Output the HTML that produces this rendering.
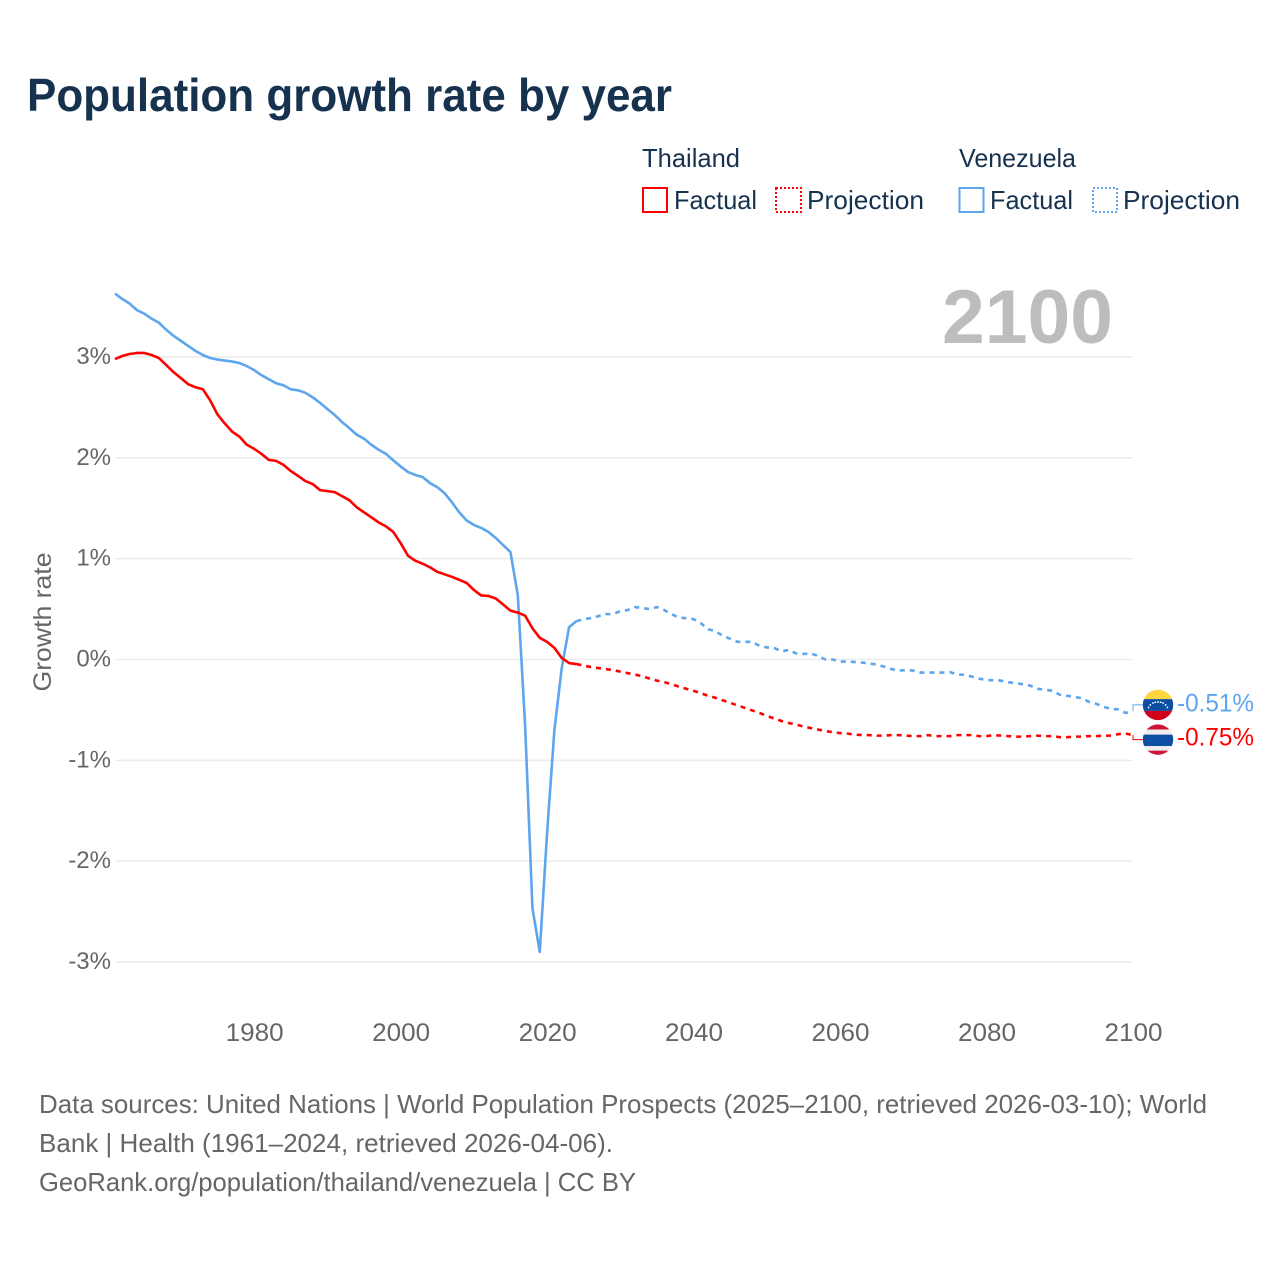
<!DOCTYPE html>
<html lang="en">
<head>
<meta charset="utf-8">
<title>Population growth rate by year</title>
<style>
html,body{margin:0;padding:0;background:#fff}
svg{display:block}
text{font-family:"Liberation Sans",Arial,sans-serif}
</style>
</head>
<body>
<svg id="chart" xmlns="http://www.w3.org/2000/svg" width="1280" height="1280" viewBox="0 0 1280 1280">
  <rect x="0" y="0" width="1280" height="1280" fill="#fff"/>
  <text x="27" y="111" font-size="46" font-weight="700" fill="#16324f" textLength="645" lengthAdjust="spacingAndGlyphs">Population growth rate by year</text>

  <g font-size="26" fill="#16324f">
    <text x="642" y="167" textLength="98" lengthAdjust="spacingAndGlyphs">Thailand</text>
    <rect x="643" y="188" width="24" height="24" fill="none" stroke="#ff0000" stroke-width="2"/>
    <text x="674" y="209" textLength="83" lengthAdjust="spacingAndGlyphs">Factual</text>
    <rect x="776" y="188" width="25" height="24" fill="none" stroke="#ff0000" stroke-width="2" stroke-dasharray="2 2"/>
    <text x="807" y="209" textLength="117" lengthAdjust="spacingAndGlyphs">Projection</text>
    <text x="959" y="167" textLength="117" lengthAdjust="spacingAndGlyphs">Venezuela</text>
    <rect x="959.5" y="188" width="24" height="24" fill="none" stroke="#5da5ec" stroke-width="2"/>
    <text x="990" y="209" textLength="83" lengthAdjust="spacingAndGlyphs">Factual</text>
    <rect x="1093" y="188" width="24" height="24" fill="none" stroke="#5da5ec" stroke-width="2" stroke-dasharray="2 2"/>
    <text x="1123" y="209" textLength="117" lengthAdjust="spacingAndGlyphs">Projection</text>
  </g>

  <g id="grid"></g>
  <g id="yticks"></g>
  <g id="xticks"></g>
  <text transform="translate(51,622) rotate(-90)" text-anchor="middle" font-size="25" fill="#666" textLength="139" lengthAdjust="spacingAndGlyphs">Growth rate</text>
  <text x="1113" y="343" text-anchor="end" font-size="76" font-weight="700" fill="#bdbdbd" textLength="171" lengthAdjust="spacingAndGlyphs">2100</text>
  <g id="series"></g>
  <g id="ends"></g>

  <g font-size="26" fill="#666">
    <text x="39" y="1113" textLength="1168" lengthAdjust="spacingAndGlyphs">Data sources: United Nations | World Population Prospects (2025–2100, retrieved 2026-03-10); World</text>
    <text x="39" y="1152" textLength="574" lengthAdjust="spacingAndGlyphs">Bank | Health (1961–2024, retrieved 2026-04-06).</text>
    <text x="39" y="1191" textLength="597" lengthAdjust="spacingAndGlyphs">GeoRank.org/population/thailand/venezuela | CC BY</text>
  </g>
</svg>
<script>
var firstFactualYear = 1961;
var firstProjectionYear = 2025;
var yTickValues = [3, 2, 1, 0, -1, -2, -3];
var xTickYears = [1980, 2000, 2020, 2040, 2060, 2080, 2100];

var thailandFactual = [2.98,3.01,3.03,3.04,3.04,3.02,2.99,2.92,2.85,2.79,2.73,2.70,2.68,2.57,2.43,2.34,2.26,2.21,2.13,2.09,
  2.04,1.98,1.97,1.93,1.87,1.82,1.77,1.74,1.68,1.67,1.66,1.62,1.58,1.51,1.46,1.41,1.36,1.32,1.265,1.155,
  1.03,0.98,0.95,0.915,0.87,0.845,0.82,0.79,0.76,0.69,0.635,0.63,0.605,0.545,0.485,0.465,0.435,0.31,0.215,0.175,
  0.115,0.015,-0.035,-0.045];
var thailandProjection = [-0.06,-0.075,-0.085,-0.095,-0.105,-0.12,-0.135,-0.15,-0.165,-0.19,-0.21,-0.225,-0.245,-0.27,-0.29,-0.31,
  -0.335,-0.36,-0.38,-0.405,-0.43,-0.455,-0.48,-0.505,-0.53,-0.56,-0.585,-0.61,-0.63,-0.645,-0.665,-0.68,-0.695,-0.71,-0.72,-0.73,
  -0.735,-0.745,-0.75,-0.75,-0.755,-0.755,-0.75,-0.75,-0.755,-0.76,-0.76,-0.75,-0.76,-0.76,-0.76,-0.75,-0.75,-0.75,-0.76,-0.76,
  -0.75,-0.755,-0.76,-0.765,-0.765,-0.76,-0.755,-0.76,-0.76,-0.77,-0.77,-0.765,-0.765,-0.76,-0.76,-0.755,-0.755,-0.74,-0.735,-0.75];
var venezuelaFactual = [3.63,3.575,3.53,3.465,3.43,3.38,3.34,3.27,3.21,3.16,3.11,3.06,3.02,2.99,2.975,2.965,2.955,2.94,2.91,2.87,
  2.82,2.78,2.74,2.72,2.68,2.67,2.645,2.60,2.545,2.485,2.425,2.355,2.295,2.23,2.19,2.13,2.08,2.04,1.975,1.915,
  1.86,1.83,1.81,1.75,1.71,1.65,1.56,1.46,1.38,1.335,1.305,1.265,1.205,1.135,1.065,0.64,-0.65,-2.465,-2.90,-1.72,
  -0.70,-0.085,0.32,0.38];
var venezuelaProjection = [0.40,0.41,0.43,0.45,0.45,0.48,0.49,0.52,0.51,0.50,0.52,0.49,0.45,0.415,0.41,0.40,0.36,0.30,0.28,0.235,
  0.205,0.175,0.175,0.175,0.135,0.12,0.115,0.08,0.095,0.06,0.055,0.06,0.035,0.0,0.0,-0.02,-0.02,-0.025,-0.03,-0.04,
  -0.05,-0.07,-0.095,-0.11,-0.105,-0.11,-0.13,-0.13,-0.13,-0.13,-0.125,-0.15,-0.15,-0.17,-0.19,-0.205,-0.205,-0.21,-0.225,-0.235,
  -0.245,-0.26,-0.29,-0.30,-0.31,-0.35,-0.36,-0.37,-0.385,-0.42,-0.44,-0.47,-0.49,-0.495,-0.53,-0.51];

var NS = 'http://www.w3.org/2000/svg';
var RED = '#ff0000';
var BLUE = '#5da5ec';
var plotLeft = 115;
var plotRight = 1133;

function xScale(year) { return 1133 - (2100 - year) * 7.324; }
function yScale(value) { return 659.5 - value * 100.83; }
function mk(tag, parent) {
  var el = document.createElementNS(NS, tag);
  parent.appendChild(el);
  return el;
}
function linePath(values, startYear, priorYear, priorValue) {
  var d = '';
  if (priorYear !== null) d = 'M' + xScale(priorYear).toFixed(2) + ',' + yScale(priorValue).toFixed(2);
  for (var i = 0; i < values.length; i++) {
    d += (d ? 'L' : 'M') + xScale(startYear + i).toFixed(2) + ',' + yScale(values[i]).toFixed(2);
  }
  return d;
}

var gridG = document.getElementById('grid');
var yG = document.getElementById('yticks');
yTickValues.forEach(function (v) {
  var ln = mk('line', gridG);
  
  
  ln.setAttribute('x1', plotLeft);
  ln.setAttribute('x2', plotRight);
  ln.setAttribute('y1', yScale(v));
  ln.setAttribute('y2', yScale(v));
  ln.setAttribute('stroke', '#ececec');
  ln.setAttribute('stroke-width', '1.5');
  var t = mk('text', yG);
  
  
  t.setAttribute('x', 111);
  t.setAttribute('y', yScale(v) + 7);
  t.setAttribute('text-anchor', 'end');
  t.setAttribute('font-size', '24');
  t.setAttribute('fill', '#666');
  t.textContent = v + '%';
});

var xG = document.getElementById('xticks');
xTickYears.forEach(function (yr) {
  var t = mk('text', xG);
  
  
  t.setAttribute('x', xScale(yr) + 0.5);
  t.setAttribute('y', 1041);
  t.setAttribute('text-anchor', 'middle');
  t.setAttribute('font-size', '25');
  t.setAttribute('fill', '#666');
  t.setAttribute('textLength', '58');
  t.setAttribute('lengthAdjust', 'spacingAndGlyphs');
  t.textContent = yr;
});

var seriesG = document.getElementById('series');

var venFact = mk('path', seriesG);


venFact.setAttribute('d', linePath(venezuelaFactual, firstFactualYear, null, null));
venFact.setAttribute('fill', 'none');
venFact.setAttribute('stroke', BLUE);
venFact.setAttribute('stroke-width', '2.6');
venFact.setAttribute('stroke-linejoin', 'round');

var venProj = mk('path', seriesG);


venProj.setAttribute('d', linePath(venezuelaProjection, firstProjectionYear, firstProjectionYear - 1, venezuelaFactual[venezuelaFactual.length - 1]));
venProj.setAttribute('fill', 'none');
venProj.setAttribute('stroke', BLUE);
venProj.setAttribute('stroke-width', '2.6');
venProj.setAttribute('stroke-dasharray', '5 5');

var thaFact = mk('path', seriesG);


thaFact.setAttribute('d', linePath(thailandFactual, firstFactualYear, null, null));
thaFact.setAttribute('fill', 'none');
thaFact.setAttribute('stroke', RED);
thaFact.setAttribute('stroke-width', '2.6');
thaFact.setAttribute('stroke-linejoin', 'round');

var thaProj = mk('path', seriesG);


thaProj.setAttribute('d', linePath(thailandProjection, firstProjectionYear, firstProjectionYear - 1, thailandFactual[thailandFactual.length - 1]));
thaProj.setAttribute('fill', 'none');
thaProj.setAttribute('stroke', RED);
thaProj.setAttribute('stroke-width', '2.6');
thaProj.setAttribute('stroke-dasharray', '5 5');

var endsG = document.getElementById('ends');
var venLast = venezuelaProjection[venezuelaProjection.length - 1];
var thaLast = thailandProjection[thailandProjection.length - 1];
var venY = yScale(venLast) - 6;
var thaY = yScale(thaLast) + 4.5;
var flagX = 1158;
var flagR = 15.2;

var venConn = mk('path', endsG);


venConn.setAttribute('d', 'M' + plotRight + ',' + yScale(venLast) + 'V' + venY + 'H1143');
venConn.setAttribute('fill', 'none');
venConn.setAttribute('stroke', BLUE);
venConn.setAttribute('stroke-width', '1');

var thaConn = mk('path', endsG);


thaConn.setAttribute('d', 'M' + plotRight + ',' + yScale(thaLast) + 'V' + thaY + 'H1143');
thaConn.setAttribute('fill', 'none');
thaConn.setAttribute('stroke', RED);
thaConn.setAttribute('stroke-width', '1');

var defs = mk('defs', endsG);
var venClip = mk('clipPath', defs);
venClip.setAttribute('id', 'ven-clip');
var venClipC = mk('circle', venClip);
venClipC.setAttribute('cx', flagX);
venClipC.setAttribute('cy', venY);
venClipC.setAttribute('r', flagR);
var thaClip = mk('clipPath', defs);
thaClip.setAttribute('id', 'tha-clip');
var thaClipC = mk('circle', thaClip);
thaClipC.setAttribute('cx', flagX);
thaClipC.setAttribute('cy', thaY);
thaClipC.setAttribute('r', flagR);

var venFlag = mk('g', endsG);


venFlag.setAttribute('clip-path', 'url(#ven-clip)');
[[-16, 10.2, '#fcd53f'], [-5.8, 11.8, '#0b4ea2'], [6, 10, '#d0021b']].forEach(function (s) {
  var r = mk('rect', venFlag);
  r.setAttribute('x', flagX - 16);
  r.setAttribute('y', venY + s[0]);
  r.setAttribute('width', 32);
  r.setAttribute('height', s[1]);
  r.setAttribute('fill', s[2]);
});
[-160, -140, -120, -105, -90, -75, -60, -40, -20].forEach(function (a) {
  var c = mk('circle', venFlag);
  c.setAttribute('cx', flagX + 10 * Math.cos(a * Math.PI / 180));
  c.setAttribute('cy', venY + 5.5 + 8.5 * Math.sin(a * Math.PI / 180));
  c.setAttribute('r', 0.9);
  c.setAttribute('fill', '#fff');
});

var thaFlag = mk('g', endsG);


thaFlag.setAttribute('clip-path', 'url(#tha-clip)');
[[-16, 6, '#d0153a'], [-10, 5, '#eeeeee'], [-5, 11.5, '#0b4ea2'], [6.5, 4.5, '#eeeeee'], [11, 5, '#d0153a']].forEach(function (s) {
  var r = mk('rect', thaFlag);
  r.setAttribute('x', flagX - 16);
  r.setAttribute('y', thaY + s[0]);
  r.setAttribute('width', 32);
  r.setAttribute('height', s[1]);
  r.setAttribute('fill', s[2]);
});

var venLabel = mk('text', endsG);


venLabel.setAttribute('x', 1177);
venLabel.setAttribute('y', venY + 6.5);
venLabel.setAttribute('font-size', '25');
venLabel.setAttribute('fill', BLUE);
venLabel.setAttribute('textLength', '77');
venLabel.setAttribute('lengthAdjust', 'spacingAndGlyphs');
venLabel.textContent = venLast.toFixed(2) + '%';

var thaLabel = mk('text', endsG);


thaLabel.setAttribute('x', 1177);
thaLabel.setAttribute('y', thaY + 6);
thaLabel.setAttribute('font-size', '25');
thaLabel.setAttribute('fill', RED);
thaLabel.setAttribute('textLength', '77');
thaLabel.setAttribute('lengthAdjust', 'spacingAndGlyphs');
thaLabel.textContent = thaLast.toFixed(2) + '%';
</script>
</body>
</html>
